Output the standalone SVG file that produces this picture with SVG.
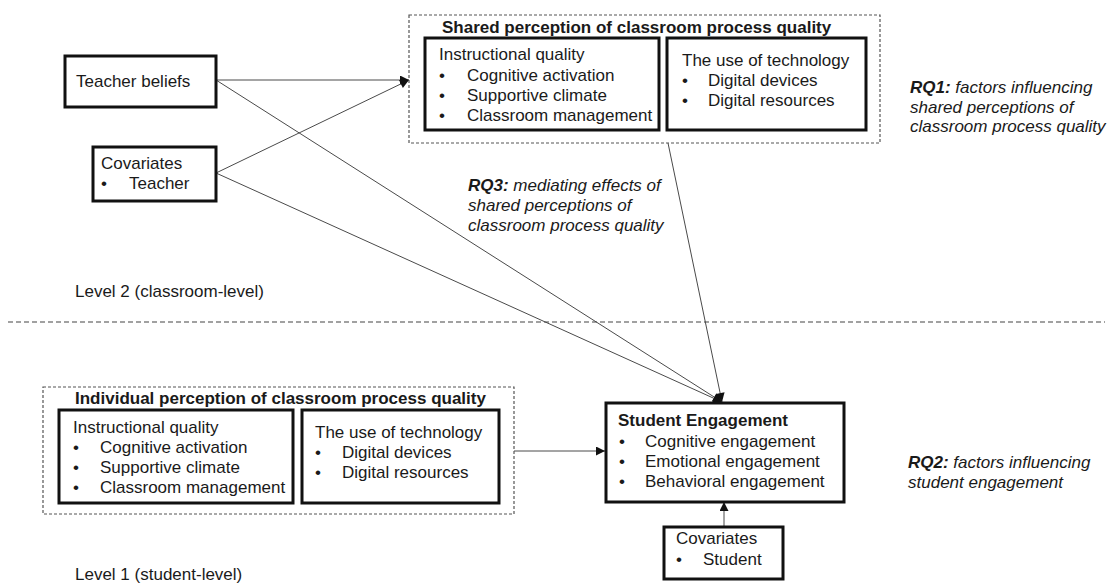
<svg xmlns="http://www.w3.org/2000/svg" width="1110" height="584" viewBox="0 0 1110 584">
  <defs>
    <marker id="arrow" viewBox="0 0 10 10" refX="10" refY="5" markerWidth="10" markerHeight="9" markerUnits="userSpaceOnUse" orient="auto">
      <path d="M0,0 L10,5 L0,10 Z" fill="#111"/>
    </marker>
    <style>
      text { font-family: "Liberation Sans", Arial, sans-serif; font-size: 17px; fill: #1a1a1a; }
      .b { font-weight: bold; }
      .it { font-style: italic; }
      .box { fill: #fff; stroke: #111; stroke-width: 3; }
      .group { fill: none; stroke: #555; stroke-width: 1.2; stroke-dasharray: 3 2; }
      .edge { fill: none; stroke: #4a4a4a; stroke-width: 1; marker-end: url(#arrow); }
      .level { fill: none; stroke: #444; stroke-width: 1.2; stroke-dasharray: 5 3; }
    </style>
  </defs>
  <rect width="1110" height="584" fill="#fff"/>

  <!-- level separator -->
  <line class="level" x1="8" y1="322" x2="1105" y2="322"/>

  <!-- connectors -->
  <g id="connectors">
    <line class="edge" x1="216" y1="80" x2="409" y2="80"/>
    <line class="edge" x1="216" y1="173" x2="409" y2="80"/>
    <line class="edge" x1="216" y1="80" x2="722" y2="402"/>
    <line class="edge" x1="216" y1="173" x2="722" y2="402"/>
    <line class="edge" x1="668" y1="143" x2="722" y2="402"/>
    <line class="edge" x1="514" y1="451" x2="605" y2="451"/>
    <line class="edge" x1="724" y1="527" x2="724" y2="502"/>
  </g>

  <!-- classroom level -->
  <g id="teacher-beliefs">
    <rect class="box" x="65" y="56" width="151" height="51"/>
    <text x="76" y="87">Teacher beliefs</text>
  </g>

  <g id="covariates-teacher">
    <rect class="box" x="93" y="147" width="123" height="54"/>
    <text x="101" y="169">Covariates</text>
    <text x="101" y="189">•</text>
    <text x="129" y="189">Teacher</text>
  </g>

  <g id="shared-perception">
    <rect class="group" x="409" y="15" width="471" height="128"/>
    <text class="b" x="442" y="33">Shared perception of classroom process quality</text>
    <g id="shared-instructional">
      <rect class="box" x="425" y="38" width="234" height="92"/>
      <text x="439" y="60">Instructional quality</text>
      <text x="439" y="81">•</text><text x="467" y="81">Cognitive activation</text>
      <text x="439" y="101">•</text><text x="467" y="101">Supportive climate</text>
      <text x="439" y="121">•</text><text x="467" y="121">Classroom management</text>
    </g>
    <g id="shared-technology">
      <rect class="box" x="667" y="38" width="199" height="92"/>
      <text x="682" y="66">The use of technology</text>
      <text x="682" y="86">•</text><text x="708" y="86">Digital devices</text>
      <text x="682" y="106">•</text><text x="708" y="106">Digital resources</text>
    </g>
  </g>

  <g id="rq1">
    <text class="it" x="910" y="93"><tspan class="b">RQ1:</tspan> factors influencing</text>
    <text class="it" x="910" y="113">shared perceptions of</text>
    <text class="it" x="910" y="132">classroom process quality</text>
  </g>

  <g id="rq3">
    <text class="it" x="468" y="191"><tspan class="b">RQ3:</tspan> mediating effects of</text>
    <text class="it" x="468" y="211">shared perceptions of</text>
    <text class="it" x="468" y="231">classroom process quality</text>
  </g>

  <text id="level2" x="75" y="297">Level 2 (classroom-level)</text>

  <!-- student level -->
  <g id="individual-perception">
    <rect class="group" x="43" y="387" width="471" height="127"/>
    <text class="b" x="75" y="404">Individual perception of classroom process quality</text>
    <g id="individual-instructional">
      <rect class="box" x="59" y="410" width="234" height="93"/>
      <text x="73" y="433">Instructional quality</text>
      <text x="73" y="453">•</text><text x="100" y="453">Cognitive activation</text>
      <text x="73" y="473">•</text><text x="100" y="473">Supportive climate</text>
      <text x="73" y="493">•</text><text x="100" y="493">Classroom management</text>
    </g>
    <g id="individual-technology">
      <rect class="box" x="302" y="410" width="197" height="93"/>
      <text x="315" y="438">The use of technology</text>
      <text x="315" y="458">•</text><text x="342" y="458">Digital devices</text>
      <text x="315" y="478">•</text><text x="342" y="478">Digital resources</text>
    </g>
  </g>

  <g id="student-engagement">
    <rect class="box" x="606" y="403" width="238" height="99"/>
    <text class="b" x="618" y="426">Student Engagement</text>
    <text x="619" y="447">•</text><text x="645" y="447">Cognitive engagement</text>
    <text x="619" y="467">•</text><text x="645" y="467">Emotional engagement</text>
    <text x="619" y="487">•</text><text x="645" y="487">Behavioral engagement</text>
  </g>

  <g id="covariates-student">
    <rect class="box" x="664" y="527" width="119" height="52"/>
    <text x="676" y="544">Covariates</text>
    <text x="676" y="565">•</text>
    <text x="703" y="565">Student</text>
  </g>

  <g id="rq2">
    <text class="it" x="908" y="468"><tspan class="b">RQ2:</tspan> factors influencing</text>
    <text class="it" x="908" y="488">student engagement</text>
  </g>

  <text id="level1" x="75" y="580">Level 1 (student-level)</text>
</svg>
